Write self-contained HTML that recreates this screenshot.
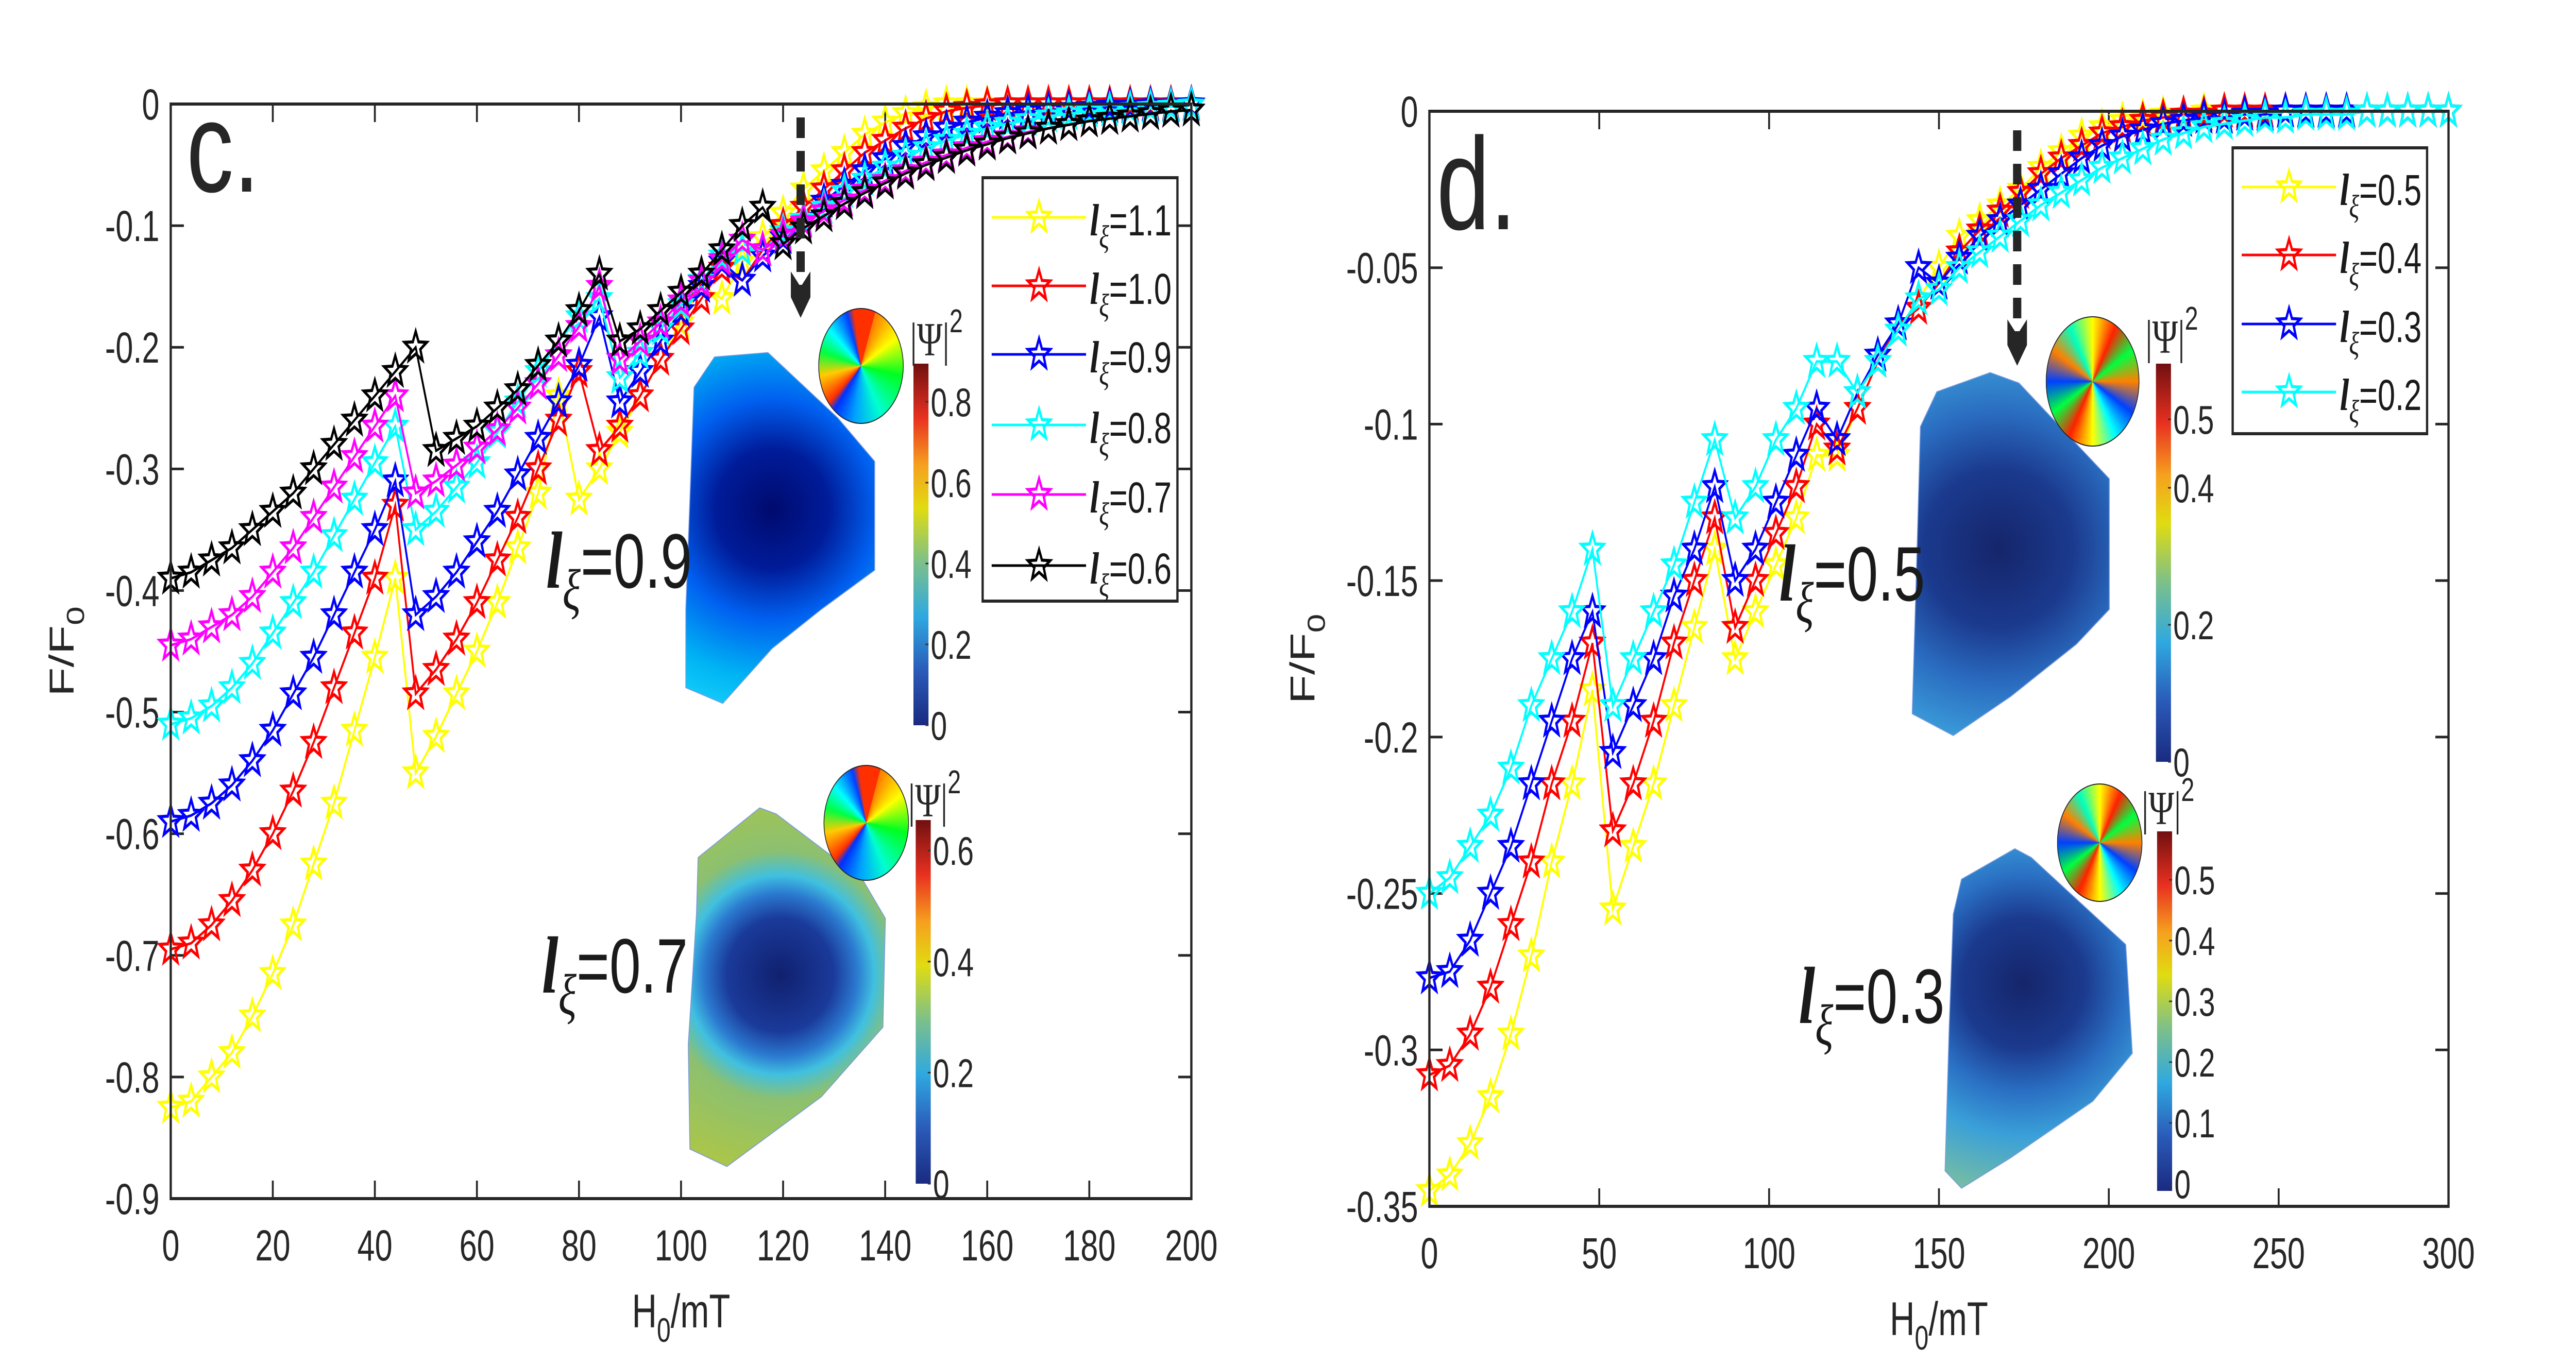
<!DOCTYPE html>
<html><head><meta charset="utf-8">
<style>
html,body{margin:0;padding:0;background:#fff;overflow:hidden;width:100%;height:100%;}
#wrap{position:absolute;left:0;top:0;width:100vw;height:100vh;overflow:hidden;font-family:"Liberation Sans",sans-serif;}
svg{position:absolute;left:0;top:0;width:100%;height:100%;}
.circ{width:100%;height:100%;border-radius:50%;border:2px solid #222;box-sizing:border-box;}
</style></head>
<body>
<div id="wrap">
<svg id="svg" viewBox="0 0 6850 2650" preserveAspectRatio="none">
<defs>
<radialGradient id="gTopL" gradientUnits="userSpaceOnUse" cx="940" cy="585" r="230">
<stop offset="0" stop-color="#000a6e"/><stop offset="0.3" stop-color="#001c9a"/><stop offset="0.55" stop-color="#0060f0"/><stop offset="0.85" stop-color="#00b4f4"/><stop offset="1" stop-color="#10c8f8"/></radialGradient>
<radialGradient id="gBotL" gradientUnits="userSpaceOnUse" cx="950" cy="1120" r="260">
<stop offset="0" stop-color="#10206e"/><stop offset="0.25" stop-color="#1a3a9a"/><stop offset="0.36" stop-color="#2b7ad0"/><stop offset="0.44" stop-color="#40c0e0"/><stop offset="0.55" stop-color="#8cc070"/><stop offset="1" stop-color="#b7c83a"/></radialGradient>
<radialGradient id="gTopR" gradientUnits="userSpaceOnUse" cx="865" cy="630" r="260">
<stop offset="0" stop-color="#15256a"/><stop offset="0.35" stop-color="#1b3a8e"/><stop offset="0.6" stop-color="#2a6cc0"/><stop offset="0.85" stop-color="#3a9ad8"/><stop offset="1" stop-color="#55b8d8"/></radialGradient>
<radialGradient id="gBotR" gradientUnits="userSpaceOnUse" cx="895" cy="1130" r="250">
<stop offset="0" stop-color="#15256a"/><stop offset="0.3" stop-color="#1b3a8e"/><stop offset="0.5" stop-color="#2a70c4"/><stop offset="0.7" stop-color="#3aa0d8"/><stop offset="1" stop-color="#7abfa0"/></radialGradient>
<linearGradient id="cbar" x1="0" y1="1" x2="0" y2="0">
<stop offset="0" stop-color="#1a2a80"/><stop offset="0.15" stop-color="#2a5ab8"/><stop offset="0.3" stop-color="#2fa8e0"/><stop offset="0.45" stop-color="#7cc08a"/><stop offset="0.6" stop-color="#e0dc10"/><stop offset="0.72" stop-color="#f6a01e"/><stop offset="0.85" stop-color="#e83020"/><stop offset="1" stop-color="#701010"/></linearGradient>
</defs>
<g id="plots"></g>
<foreignObject x="2176" y="598" width="227" height="225"><div xmlns="http://www.w3.org/1999/xhtml" class="circ" style="background:conic-gradient(from 20deg,#ff7a00,#ffff00 40deg,#00ff20 80deg,#00ffd0 130deg,#00a0ff 170deg,#0030ff 200deg,#ff3000 210deg,#ffcc00 240deg,#00ff40 265deg,#00ffff 290deg,#0040ff 320deg,#ff3000 330deg);"></div></foreignObject>
<foreignObject x="2190" y="1485" width="227" height="225"><div xmlns="http://www.w3.org/1999/xhtml" class="circ" style="background:conic-gradient(from 20deg,#ff7a00,#ffff00 40deg,#00ff20 80deg,#00ffd0 130deg,#00a0ff 170deg,#0030ff 200deg,#ff3000 210deg,#ffcc00 240deg,#00ff40 265deg,#00ffff 290deg,#0040ff 320deg,#ff3000 330deg);"></div></foreignObject>
<foreignObject x="5440" y="614" width="249" height="253"><div xmlns="http://www.w3.org/1999/xhtml" class="circ" style="background:conic-gradient(from 0deg,#ffff00,#ff2000 30deg,#00ff40 60deg,#ff8000 90deg,#0040ff 120deg,#00ffff 150deg,#ffff00 180deg,#ff2000 210deg,#00ff40 240deg,#0040ff 270deg,#ff8000 300deg,#00ffc0 330deg,#ffff00 360deg);"></div></foreignObject>
<foreignObject x="5470" y="1521" width="227" height="230"><div xmlns="http://www.w3.org/1999/xhtml" class="circ" style="background:conic-gradient(from 0deg,#ffff00,#ff2000 30deg,#00ff40 60deg,#ff8000 90deg,#0040ff 120deg,#00ffff 150deg,#ffff00 180deg,#ff2000 210deg,#00ff40 240deg,#0040ff 270deg,#ff8000 300deg,#00ffc0 330deg,#ffff00 360deg);"></div></foreignObject>
</svg>
</div>
<script>
// ---------- Panel c data ----------
const cX = [0,4,8,12,16,20,24,28,32,36,40,44,48,52,56,60,64,68,72,76,80,84,88,92,96,100,104,108,112,116,120,124,128,132,136,140,144,148,152,156,160,164,168,172,176,180,184,188,192,196,200];
const cLabels = ["1.1","1.0","0.9","0.8","0.7","0.6"];
const cColors = ["#ffff00","#ff0000","#0000ff","#00ffff","#ff00ff","#000000"];
const cY11 = [-0.825,-0.82,-0.8,-0.78,-0.75,-0.715,-0.675,-0.625,-0.575,-0.515,-0.455,-0.39,-0.55,-0.52,-0.485,-0.45,-0.41,-0.365,-0.32,-0.24,-0.325,-0.3,-0.27,-0.24,-0.21,-0.18,-0.15,-0.16,-0.13,-0.11,-0.09,-0.07,-0.055,-0.04,-0.025,-0.015,-0.008,-0.003,0,0,0,0,0,0,0,0,0,0,0,0,0];
const cY10 = [-0.695,-0.69,-0.675,-0.655,-0.63,-0.6,-0.565,-0.525,-0.48,-0.435,-0.39,-0.33,-0.485,-0.465,-0.44,-0.41,-0.375,-0.34,-0.3,-0.26,-0.22,-0.285,-0.265,-0.24,-0.21,-0.185,-0.16,-0.135,-0.145,-0.12,-0.1,-0.085,-0.07,-0.055,-0.04,-0.03,-0.02,-0.012,-0.006,-0.003,-0.001,0,0,0,0,0,0,0,0,0,0];
const cY09 = [-0.59,-0.585,-0.575,-0.56,-0.54,-0.515,-0.485,-0.455,-0.42,-0.385,-0.35,-0.31,-0.42,-0.405,-0.385,-0.36,-0.335,-0.305,-0.275,-0.245,-0.215,-0.175,-0.245,-0.22,-0.195,-0.17,-0.15,-0.13,-0.145,-0.125,-0.11,-0.095,-0.08,-0.067,-0.055,-0.045,-0.035,-0.027,-0.02,-0.015,-0.011,-0.008,-0.006,-0.005,-0.004,-0.003,-0.002,-0.002,-0.001,-0.001,0];
const cY08 = [-0.51,-0.505,-0.495,-0.48,-0.46,-0.435,-0.41,-0.385,-0.355,-0.325,-0.295,-0.265,-0.35,-0.335,-0.315,-0.295,-0.27,-0.245,-0.22,-0.195,-0.175,-0.16,-0.225,-0.205,-0.185,-0.165,-0.145,-0.125,-0.12,-0.12,-0.105,-0.095,-0.085,-0.072,-0.062,-0.052,-0.043,-0.036,-0.03,-0.025,-0.02,-0.016,-0.013,-0.01,-0.008,-0.006,-0.005,-0.004,-0.003,-0.002,-0.001];
const cY07 = [-0.445,-0.44,-0.43,-0.42,-0.405,-0.385,-0.365,-0.34,-0.315,-0.29,-0.265,-0.24,-0.32,-0.31,-0.297,-0.283,-0.268,-0.25,-0.23,-0.207,-0.183,-0.15,-0.21,-0.195,-0.18,-0.162,-0.146,-0.128,-0.112,-0.12,-0.108,-0.097,-0.088,-0.079,-0.071,-0.063,-0.055,-0.048,-0.042,-0.036,-0.031,-0.027,-0.023,-0.02,-0.017,-0.014,-0.012,-0.01,-0.008,-0.006,-0.005];
const cY06 = [-0.39,-0.385,-0.375,-0.365,-0.35,-0.335,-0.32,-0.3,-0.28,-0.26,-0.24,-0.22,-0.2,-0.285,-0.275,-0.265,-0.25,-0.235,-0.215,-0.195,-0.17,-0.14,-0.195,-0.185,-0.17,-0.155,-0.14,-0.12,-0.1,-0.085,-0.115,-0.102,-0.092,-0.082,-0.073,-0.065,-0.057,-0.05,-0.044,-0.038,-0.033,-0.028,-0.024,-0.02,-0.017,-0.014,-0.012,-0.01,-0.008,-0.006,-0.005];
const cSeries = [cY11,cY10,cY09,cY08,cY07,cY06];
const cYTicks = [0,-0.1,-0.2,-0.3,-0.4,-0.5,-0.6,-0.7,-0.8,-0.9];
const cYTickLabels = ["0","-0.1","-0.2","-0.3","-0.4","-0.5","-0.6","-0.7","-0.8","-0.9"];
const cXTicks = [0,20,40,60,80,100,120,140,160,180,200];

// ---------- Panel d data ----------
const dX = [0,6,12,18,24,30,36,42,48,54,60,66,72,78,84,90,96,102,108,114,120,126,132,138,144,150,156,162,168,174,180,186,192,198,204,210,216,222,228,234,240,246,252,258,264,270,276,282,288,294,300];
const dLabels = ["0.5","0.4","0.3","0.2"];
const dColors = ["#ffff00","#ff0000","#0000ff","#00ffff"];
const dY05 = [-0.345,-0.34,-0.33,-0.315,-0.295,-0.27,-0.24,-0.215,-0.185,-0.255,-0.235,-0.215,-0.19,-0.165,-0.14,-0.175,-0.16,-0.145,-0.13,-0.11,-0.11,-0.095,-0.08,-0.07,-0.06,-0.05,-0.04,-0.035,-0.03,-0.025,-0.018,-0.013,-0.008,-0.005,-0.003,-0.002,-0.001,-0.001,0,0,0,0,0,0,0,0,0,0,0,0,0];
const dY04 = [-0.308,-0.305,-0.295,-0.28,-0.26,-0.24,-0.215,-0.195,-0.17,-0.23,-0.215,-0.195,-0.17,-0.15,-0.13,-0.165,-0.15,-0.135,-0.12,-0.1,-0.108,-0.095,-0.08,-0.068,-0.063,-0.055,-0.045,-0.038,-0.032,-0.026,-0.02,-0.015,-0.011,-0.007,-0.005,-0.003,-0.002,-0.001,-0.001,0,0,0,0,0,0,0,0,0,0,0,0];
const dY03 = [-0.277,-0.275,-0.265,-0.25,-0.235,-0.215,-0.195,-0.175,-0.16,-0.205,-0.19,-0.175,-0.155,-0.14,-0.12,-0.15,-0.14,-0.125,-0.11,-0.095,-0.105,-0.09,-0.078,-0.068,-0.05,-0.055,-0.047,-0.04,-0.035,-0.03,-0.025,-0.02,-0.015,-0.011,-0.008,-0.006,-0.004,-0.003,-0.002,-0.002,-0.001,-0.001,0,0,0,0,0,0,0,0,0];
const dY02 = [-0.25,-0.245,-0.235,-0.225,-0.21,-0.19,-0.175,-0.16,-0.14,-0.19,-0.175,-0.16,-0.145,-0.125,-0.105,-0.13,-0.12,-0.105,-0.095,-0.08,-0.08,-0.09,-0.08,-0.07,-0.06,-0.057,-0.05,-0.045,-0.04,-0.035,-0.03,-0.026,-0.022,-0.018,-0.015,-0.012,-0.009,-0.007,-0.005,-0.004,-0.003,-0.002,-0.002,-0.001,-0.001,-0.001,0,0,0,0,0];
const dSeries = [dY05,dY04,dY03,dY02];
const dYTicks = [0,-0.05,-0.1,-0.15,-0.2,-0.25,-0.3,-0.35];
const dYTickLabels = ["0","-0.05","-0.1","-0.15","-0.2","-0.25","-0.3","-0.35"];
const dXTicks = [0,50,100,150,200,250,300];

const NS = "http://www.w3.org/2000/svg";
const root = document.getElementById('plots');
function mk(tag, attrs, parent, text){
  const e = document.createElementNS(NS, tag);
  for (const k in attrs) e.setAttribute(k, attrs[k]);
  if (text !== undefined) e.textContent = text;
  (parent||root).appendChild(e);
  return e;
}
function starPath(cx, cy, R){
  const r = R*0.42; let d = "";
  for (let i=0;i<10;i++){
    const a = -Math.PI/2 + i*Math.PI/5;
    const rr = i%2===0 ? R : r;
    d += (i===0?"M":"L") + (cx+rr*Math.cos(a)).toFixed(1) + "," + (cy+rr*Math.sin(a)).toFixed(1);
  }
  return d + "Z";
}
function lxiLabel(parent, x, y, fs, val, name){
  const t = mk('text',{x:x,y:y,'font-size':fs,fill:'#1a1a1a','font-family':'"Liberation Sans",sans-serif'},parent);
  
  
  mk('tspan',{'font-family':'"Liberation Serif",serif','font-style':'italic','font-weight':'bold','font-size':fs*1.05},t,'l');
  mk('tspan',{'font-family':'"Liberation Serif",serif','font-style':'italic','font-size':fs*0.75,dy:fs*0.28},t,'ξ');
  mk('tspan',{dy:-fs*0.28},t,'='+val);
  return t;
}

function drawPanel(cfg){
  const g = mk('g',{});
  
  
  const X = v => cfg.x0 + (v - cfg.xmin)/(cfg.xmax - cfg.xmin)*(cfg.x1 - cfg.x0);
  const Y = v => cfg.y0 + (cfg.ymax - v)/(cfg.ymax - cfg.ymin)*(cfg.y1 - cfg.y0);
  cfg.yTicks.forEach((v,i)=>{
    const y = Y(v);
    const t1 = mk('line',{x1:cfg.x0,x2:cfg.x0+35,y1:y,y2:y,stroke:'#262626','stroke-width':5},g);
     
    const t2 = mk('line',{x1:cfg.x1,x2:cfg.x1-35,y1:y,y2:y,stroke:'#262626','stroke-width':5},g);
     
    const lb = mk('text',{x:cfg.x0-30,y:y+30,'text-anchor':'end','font-size':84,fill:'#262626'},g,cfg.yTickLabels[i]);
     
  });
  cfg.xTicks.forEach(v=>{
    const x = X(v);
    const t1 = mk('line',{x1:x,x2:x,y1:cfg.y1,y2:cfg.y1-35,stroke:'#262626','stroke-width':5},g);
     
    const t2 = mk('line',{x1:x,x2:x,y1:cfg.y0,y2:cfg.y0+35,stroke:'#262626','stroke-width':5},g);
     
    const lb = mk('text',{x:x,y:cfg.y1+120,'text-anchor':'middle','font-size':84,fill:'#262626'},g,String(v));
     
  });
  cfg.series.forEach((ys,si)=>{
    const sg = mk('g',{},g);
    
    
    let d = "";
    ys.forEach((v,i)=>{ d += (i?"L":"M") + X(cfg.xs[i]).toFixed(1) + "," + Y(v).toFixed(1); });
    const pl = mk('path',{d:d,fill:'none',stroke:cfg.colors[si],'stroke-width':5},sg);
    
    
    ys.forEach((v,i)=>{
      const st = mk('path',{d:starPath(X(cfg.xs[i]),Y(v),31),fill:'none',stroke:cfg.colors[si],'stroke-width':6},sg);
      
      
    });
  });
  const bx = mk('rect',{x:cfg.x0,y:cfg.y0,width:cfg.x1-cfg.x0,height:cfg.y1-cfg.y0,fill:'none',stroke:'#262626','stroke-width':6},g);
   
  const xl = mk('text',{x:(cfg.x0+cfg.x1)/2,y:cfg.y1+250,'text-anchor':'middle','font-size':92,fill:'#262626'},g);
   
  mk('tspan',{},xl,'H'); mk('tspan',{'font-size':66,dy:28},xl,'0'); mk('tspan',{dy:-28},xl,'/mT');
  const yl = mk('text',{x:0,y:0,'text-anchor':'middle','font-size':92,fill:'#262626',transform:`translate(${cfg.ylabX},${(cfg.y0+cfg.y1)/2}) rotate(-90)`},g);
   
  mk('tspan',{},yl,'F/F'); mk('tspan',{'font-size':66,dy:28},yl,'0');
  const lg = mk('g',{},g);
   
  const lr = mk('rect',{x:cfg.leg.x,y:cfg.leg.y,width:cfg.leg.w,height:cfg.leg.h,fill:'#fff',stroke:'#262626','stroke-width':6},lg);
   
  cfg.labels.forEach((lab,i)=>{
    const y = cfg.leg.ey[i];
    const e = mk('g',{},lg);
     
    mk('line',{x1:cfg.leg.x+24,x2:cfg.leg.x+275,y1:y,y2:y,stroke:cfg.colors[i],'stroke-width':5},e);
    mk('path',{d:starPath(cfg.leg.x+150,y,31),fill:'none',stroke:cfg.colors[i],'stroke-width':6},e);
    lxiLabel(e, cfg.leg.x+285, y+35, 84, lab, 'legend-label');
  });
  return {X,Y,g};
}

drawPanel({name:'panel-c',x0:454,x1:3168,y0:202,y1:2327,xmin:0,xmax:200,ymin:-0.9,ymax:0,
  xs:cX,series:cSeries,colors:cColors,labels:cLabels,yTicks:cYTicks,yTickLabels:cYTickLabels,xTicks:cXTicks,ylabX:195,
  leg:{x:2613,y:345,w:518,h:822,ey:[422,555,688,825,960,1098]}});
drawPanel({name:'panel-d',x0:3801,x1:6511,y0:216,y1:2342,xmin:0,xmax:300,ymin:-0.35,ymax:0,
  xs:dX,series:dSeries,colors:dColors,labels:dLabels,yTicks:dYTicks,yTickLabels:dYTickLabels,xTicks:dXTicks,ylabX:3495,
  leg:{x:5937,y:287,w:517,h:555,ey:[363,495,629,761]}});

const lc = mk('text',{x:496,y:372,'font-size':250,fill:'#262626'},root,'c.');
 
const ld = mk('text',{x:3820,y:445,'font-size':255,fill:'#262626'},root,'d.');
 

function arrow(x,y1,y2,name){
  const a = mk('g',{},root);
   
  mk('line',{x1:x,x2:x,y1:y1,y2:y2-50,stroke:'#262626','stroke-width':22,'stroke-dasharray':'40,25'},a);
  mk('path',{d:`M${x-26},${y2-90} L${x},${y2-60} L${x+26},${y2-90} L${x+26},${y2-40} L${x},${y2} L${x-26},${y2-40}Z`,fill:'#262626'},a);
}
arrow(2129,228,617,'field-arrow-c');
arrow(5364,253,710,'field-arrow-d');

function inset(tx, pts, grad, name){
  const g = mk('g',{transform:`matrix(2.184,0,0,1.69,${tx},0)`},root);
   
  mk('polygon',{points:pts,fill:`url(#${grad})`,stroke:'#7a9ae0','stroke-width':1},g);
}
inset(0,"845,445 870,410 935,405 1020,480 1065,530 1065,655 1000,700 940,745 880,808 835,790 835,700","gTopL",'order-parameter-map-c-top');
inset(0,"850,985 925,928 945,935 1050,1010 1078,1055 1075,1180 1000,1260 885,1340 840,1320 838,1200 848,1050","gBotL",'order-parameter-map-c-bottom');
inset(3425,"790,450 855,428 890,440 1000,550 1000,700 960,740 880,800 810,845 760,820 765,660 770,490","gTopR",'order-parameter-map-d-top');
inset(3425,"820,1010 885,975 905,985 1020,1085 1028,1210 980,1265 880,1330 820,1365 800,1345 805,1180 810,1050","gBotR",'order-parameter-map-d-bottom');

function colorbar(x,yTop,yBot,zeroY,step,labels,titleX,titleY,name){
  const g = mk('g',{},root);
   
  mk('rect',{x:x,y:yTop,width:40,height:yBot-yTop,fill:'url(#cbar)'},g);
  labels.forEach((l,i)=>{
    const y = zeroY - l.v*step;
    mk('line',{x1:x+32,x2:x+40,y1:y,y2:y,stroke:'#333','stroke-width':3},g);
    const t = mk('text',{x:x+46,y:y+28,'font-size':78,fill:'#262626'},g,l.t);
     
  });
  const tt = mk('text',{x:titleX,y:titleY,'font-size':92,fill:'#262626','font-family':'"Liberation Serif",serif'},g);
   
  mk('tspan',{},tt,'|Ψ|'); mk('tspan',{'font-size':64,dy:-45,'font-family':'"Liberation Sans",sans-serif'},tt,'2');
}
colorbar(2429,706,1408,1408,785,[{v:0,t:'0'},{v:0.2,t:'0.2'},{v:0.4,t:'0.4'},{v:0.6,t:'0.6'},{v:0.8,t:'0.8'}],2420,690,'colorbar-c-top');
colorbar(2435,1592,2298,2298,1078,[{v:0,t:'0'},{v:0.2,t:'0.2'},{v:0.4,t:'0.4'},{v:0.6,t:'0.6'}],2415,1585,'colorbar-c-bottom');
colorbar(5733,706,1479,1479,1330,[{v:0,t:'0'},{v:0.2,t:'0.2'},{v:0.4,t:'0.4'},{v:0.5,t:'0.5'}],5705,685,'colorbar-d-top');
colorbar(5736,1614,2312,2298,1180,[{v:0,t:'0'},{v:0.1,t:'0.1'},{v:0.2,t:'0.2'},{v:0.3,t:'0.3'},{v:0.4,t:'0.4'},{v:0.5,t:'0.5'}],5695,1600,'colorbar-d-bottom');

lxiLabel(root,1452,1141,150,'0.9','inset-label-c-top');
lxiLabel(root,1441,1927,150,'0.7','inset-label-c-bottom');
lxiLabel(root,4731,1166,150,'0.5','inset-label-d-top');
lxiLabel(root,4783,1986,150,'0.3','inset-label-d-bottom');
</script>
</body></html>
